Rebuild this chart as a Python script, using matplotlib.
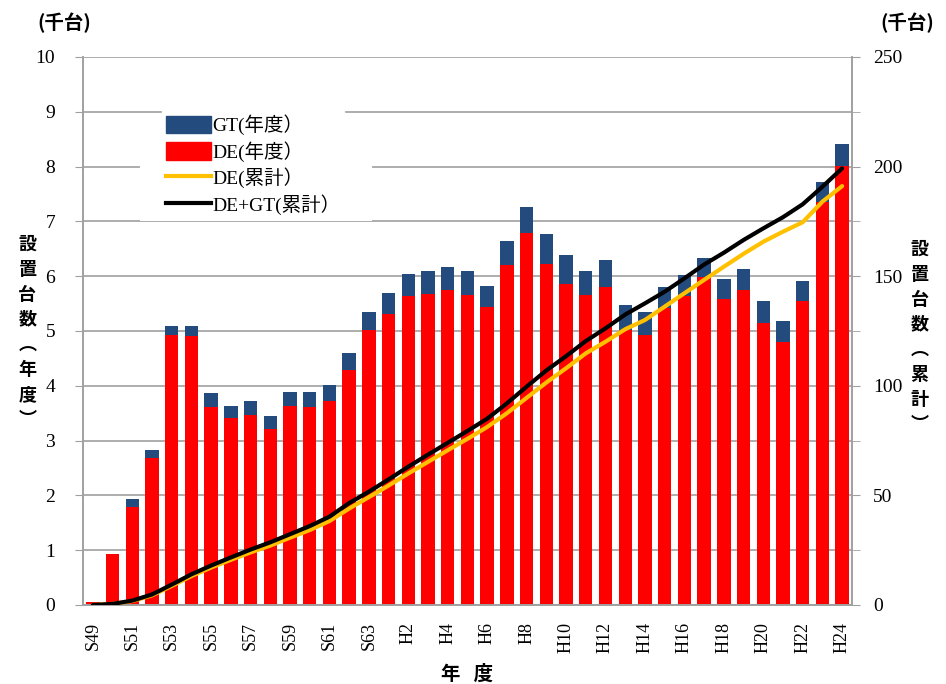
import numpy as np
import matplotlib
matplotlib.use("Agg")
import matplotlib.pyplot as plt
from matplotlib.patches import Patch, Rectangle
from matplotlib.lines import Line2D

# fiscal years S49 .. S63, H1 .. H24
YEARS = [f"S{n}" for n in range(49, 64)] + [f"H{n}" for n in range(1, 25)]

# DE (annual, thousand units)
DE_YEAR = [0.06, 0.93, 1.79, 2.68, 4.93, 4.90, 3.61, 3.41, 3.47, 3.22,
           3.63, 3.61, 3.73, 4.29, 5.01, 5.31, 5.63, 5.68, 5.74, 5.65,
           5.44, 6.20, 6.79, 6.23, 5.85, 5.65, 5.80, 5.02, 4.93, 5.42,
           5.63, 5.98, 5.58, 5.74, 5.14, 4.80, 5.55, 7.36, 8.01]
# DE+GT annual top (thousand units)
TOTAL_YEAR = [0.06, 0.93, 1.93, 2.82, 5.10, 5.10, 3.86, 3.63, 3.73, 3.45,
              3.89, 3.89, 4.01, 4.60, 5.35, 5.69, 6.04, 6.10, 6.16, 6.10,
              5.83, 6.65, 7.27, 6.77, 6.39, 6.10, 6.30, 5.47, 5.35, 5.80,
              6.03, 6.33, 5.95, 6.13, 5.54, 5.18, 5.92, 7.72, 8.41]
GT_YEAR = [t - d for t, d in zip(TOTAL_YEAR, DE_YEAR)]

# cumulative (thousand units), right axis
DE_CUM = [0.0, 0.5, 1.8, 4.4, 8.7, 13.2, 17.1, 20.6, 24.0, 27.1,
          30.7, 34.2, 38.3, 44.0, 49.2, 54.5, 60.0, 65.3, 70.6, 75.8,
          81.2, 87.5, 94.5, 101.5, 108.0, 114.8, 120.1, 125.8, 130.0, 136.1,
          142.2, 148.3, 154.3, 160.2, 165.7, 170.3, 174.6, 184.0, 191.1]
ALL_CUM = [0.0, 0.5, 2.0, 4.8, 9.3, 14.0, 18.0, 21.7, 25.3, 28.6,
           32.3, 36.0, 40.3, 46.5, 51.7, 57.3, 63.1, 68.6, 74.0, 79.4,
           85.0, 92.0, 99.6, 107.0, 113.5, 120.4, 126.2, 132.5, 137.6, 142.9,
           149.0, 155.3, 160.7, 166.5, 171.8, 176.9, 182.8, 190.8, 199.2]

RED = "#FF0000"
BLUE = "#234B7E"
GOLD = "#FFC000"
GRID = "#A0A0A0"
SERIF = ["Liberation Serif", "Noto Sans CJK JP"]
JP = ["Noto Sans CJK JP", "DejaVu Sans"]

fig = plt.figure(figsize=(9.46, 6.84), dpi=100)
ax1 = fig.add_axes([0.0877, 0.1155, 0.8129, 0.8012])
ax2 = ax1.twinx()

x = np.arange(len(YEARS))
ax1.bar(x, DE_YEAR, width=0.68, color=RED, zorder=2)
ax1.bar(x, GT_YEAR, width=0.68, bottom=DE_YEAR, color=BLUE, zorder=2)

ax2.plot(x, DE_CUM, color=GOLD, lw=3, solid_capstyle="round", zorder=3)
ax2.plot(x, ALL_CUM, color="black", lw=3, solid_capstyle="round", zorder=4)

ax1.set_xlim(-0.5, len(YEARS) - 0.5)
ax1.set_ylim(0, 10)
ax2.set_ylim(0, 250)
ax1.set_yticks(range(0, 11))
ax2.set_yticks(range(0, 251, 50))
ax2.set_yticks(range(0, 251, 25), minor=True)
ax1.set_xticks(x[::2])
ax1.set_xticklabels(YEARS[::2], rotation=90, family=SERIF, fontsize=13)
ax1.tick_params(axis="x", length=0, pad=12)
ax1.tick_params(axis="y", length=6, color=GRID, pad=14, labelsize=14)
ax2.tick_params(axis="y", which="both", length=6, color=GRID, pad=9, labelsize=14)
for lab in ax1.get_yticklabels() + ax2.get_yticklabels():
    lab.set_family(SERIF)

ax1.grid(axis="y", color=GRID, lw=1.2, zorder=0)
ax1.set_axisbelow(True)
for ax in (ax1, ax2):
    for side in ("left", "right", "bottom", "top"):
        ax.spines[side].set_color(GRID)
        ax.spines[side].set_linewidth(1.2)
    ax.spines["top"].set_visible(False)

# white area behind the legend (hides the gridline there)
ax1.add_patch(Rectangle((0.074, 0.70), 0.302, 0.195, transform=ax1.transAxes,
                        facecolor="white", edgecolor="none", zorder=1))

# axis titles
vert_left = "\n".join("設置台数︵年度︶")
vert_right = "\n".join("設置台数︵累計︶")
fig.text(0.029, 0.515, vert_left, ha="center", va="center", family=JP,
         fontsize=13, fontweight="bold", linespacing=1.4)
fig.text(0.972, 0.508, vert_right, ha="center", va="center", family=JP,
         fontsize=13, fontweight="bold", linespacing=1.4)
fig.text(0.068, 0.966, "(千台)", ha="center", va="center", family=JP,
         fontsize=14, fontweight="bold")
fig.text(0.959, 0.966, "(千台)", ha="center", va="center", family=JP,
         fontsize=14, fontweight="bold")
fig.text(0.494, 0.014, "年   度", ha="center", va="center", family=JP,
         fontsize=14, fontweight="bold")

handles = [Patch(facecolor=BLUE, edgecolor=BLUE),
           Patch(facecolor=RED, edgecolor=RED),
           Line2D([0], [0], color=GOLD, lw=3),
           Line2D([0], [0], color="black", lw=3)]
labels = ["GT(年度）", "DE(年度）", "DE(累計）", "DE+GT(累計）"]
leg = ax2.legend(handles, labels, loc="upper left", bbox_to_anchor=(0.09, 0.92),
                 frameon=True, fancybox=False, framealpha=1, edgecolor="white",
                 prop={"family": SERIF, "size": 14}, handlelength=2.3,
                 handleheight=1.0, handletextpad=0.1, labelspacing=0.3,
                 borderpad=0.2)

fig.savefig("out.png", dpi=100)
